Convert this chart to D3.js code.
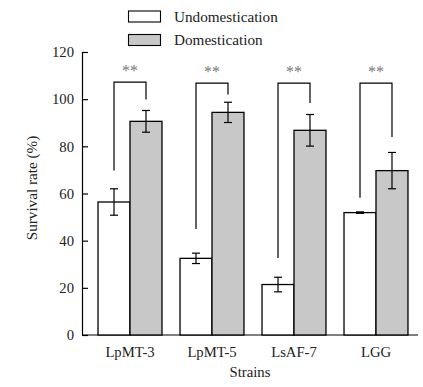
<!DOCTYPE html>
<html>
<head>
<meta charset="utf-8">
<script src="https://cdn.jsdelivr.net/npm/d3@7"></script>
<style>
body { margin: 0; background: #fff; }
text { font-family: "Liberation Serif", "Times New Roman", serif; }
</style>
</head>
<body>
<script>
var strains = ["LpMT-3", "LpMT-5", "LsAF-7", "LGG"];
var seriesNames = ["Undomestication", "Domestication"];
var undomestication = [56.4, 32.5, 21.4, 51.9];
var undomesticationErr = [5.6, 2.2, 3.1, 0.3];
var domestication = [90.6, 94.4, 86.8, 69.7];
var domesticationErr = [4.6, 4.3, 6.7, 7.7];
var yTicks = [0, 20, 40, 60, 80, 100, 120];
// significance brackets (value units)
var bracketTop = [107.2, 106.8, 106.8, 106.8];
var bracketLeftEnd = [69.7, 44.9, 32.6, 58.2];
var bracketRightEnd = [99.9, 102.0, 98.4, 84.0];
var sigLabel = ["**", "**", "**", "**"];

var W = 423, H = 387;
var svg = d3.select("body").append("svg")
	.attr("width", W)
	.attr("height", H);

var y = d3.scaleLinear().domain([0, 120]).range([335, 52]);
var x = d3.scaleBand().domain(strains).range([89, 417]).paddingInner(0.22).paddingOuter(0.11);
var xs = d3.scaleBand().domain(seriesNames).range([0, x.bandwidth()]);

var fills = ["#ffffff", "#c8c8c8"];

// y axis
var yAxis = svg.append("g")
	.attr("transform", "translate(82,0)")
	.call(d3.axisLeft(y).tickValues(yTicks).tickSize(-6).tickSizeOuter(0).tickPadding(8));
yAxis.select(".domain").attr("stroke", "#000").attr("stroke-width", 1.2);
yAxis.selectAll(".tick line").attr("stroke", "#000").attr("stroke-width", 1.2);
yAxis.selectAll(".tick text").attr("font-size", "14.7px").attr("fill", "#222")
	.style("font-family", "Liberation Serif, serif");

// x axis
var xAxis = svg.append("g")
	.attr("transform", "translate(0,335)")
	.call(d3.axisBottom(x).tickSize(0).tickPadding(12));
xAxis.select(".domain").attr("d", "M82,0H418").attr("stroke", "#000").attr("stroke-width", 1.2);
xAxis.selectAll(".tick text").attr("font-size", "14.7px").attr("fill", "#222")
	.style("font-family", "Liberation Serif, serif");

var rows = strains.map(function(s, i){
	return [
		{strain: s, series: seriesNames[0], v: undomestication[i], e: undomesticationErr[i], k: 0},
		{strain: s, series: seriesNames[1], v: domestication[i], e: domesticationErr[i], k: 1}
	];
});
var flat = d3.merge(rows);

// bars
svg.append("g").selectAll("rect")
	.data(flat)
	.enter()
	.append("rect")
	.attr("x", function(d){ return x(d.strain) + xs(d.series); })
	.attr("y", function(d){ return y(d.v); })
	.attr("width", xs.bandwidth())
	.attr("height", function(d){ return y(0) - y(d.v); })
	.attr("fill", function(d){ return fills[d.k]; })
	.attr("stroke", "#000")
	.attr("stroke-width", 1.3);

// error bars
var eb = svg.append("g").attr("stroke", "#000").attr("stroke-width", 1.2);
flat.forEach(function(d){
	var cx = x(d.strain) + xs(d.series) + xs.bandwidth() / 2;
	eb.append("line").attr("x1", cx).attr("x2", cx).attr("y1", y(d.v + d.e)).attr("y2", y(d.v - d.e));
	eb.append("line").attr("x1", cx - 4).attr("x2", cx + 4).attr("y1", y(d.v + d.e)).attr("y2", y(d.v + d.e));
	eb.append("line").attr("x1", cx - 4).attr("x2", cx + 4).attr("y1", y(d.v - d.e)).attr("y2", y(d.v - d.e));
});

// significance brackets
var br = svg.append("g").attr("fill", "none").attr("stroke", "#000").attr("stroke-width", 1.2);
strains.forEach(function(s, i){
	var lx = x(s) + xs(seriesNames[0]) + xs.bandwidth() / 2;
	var rx = x(s) + xs(seriesNames[1]) + xs.bandwidth() / 2;
	br.append("path")
		.attr("d", "M" + lx + "," + y(bracketLeftEnd[i]) + "V" + y(bracketTop[i]) + "H" + rx + "V" + y(bracketRightEnd[i]));
	svg.append("text")
		.attr("x", (lx + rx) / 2)
		.attr("y", y(bracketTop[i]) - 6)
		.attr("text-anchor", "middle")
		.attr("font-size", "16px")
		.attr("fill", "#777")
		.text(sigLabel[i]);
});

// axis titles
svg.append("text")
	.attr("x", 250)
	.attr("y", 377)
	.attr("text-anchor", "middle")
	.attr("font-size", "14.7px")
	.attr("fill", "#222")
	.text("Strains");
svg.append("text")
	.attr("transform", "translate(37,188) rotate(-90)")
	.attr("text-anchor", "middle")
	.attr("font-size", "15.2px")
	.attr("fill", "#222")
	.text("Survival rate (%)");

// legend
var lg = svg.append("g");
seriesNames.forEach(function(n, i){
	var ly = 11 + i * 23.5;
	lg.append("rect").attr("x", 128.5).attr("y", ly).attr("width", 32).attr("height", 11)
		.attr("fill", fills[i]).attr("stroke", "#000").attr("stroke-width", 1.1);
	lg.append("text").attr("x", 174).attr("y", ly + 10.5)
		.attr("font-size", "15.2px").attr("fill", "#222").text(n);
});
</script>
</body>
</html>
